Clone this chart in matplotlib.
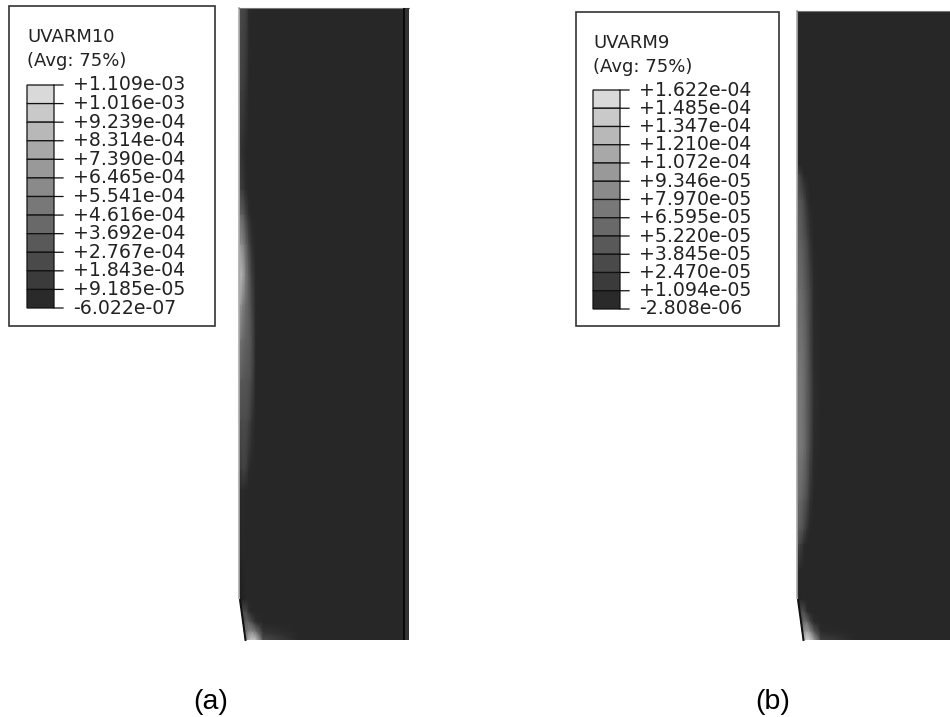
import numpy as np
import matplotlib
matplotlib.use("Agg")
import matplotlib.pyplot as plt
from matplotlib.patches import Polygon, Rectangle

labels_a = ["+1.109e-03","+1.016e-03","+9.239e-04","+8.314e-04","+7.390e-04","+6.465e-04","+5.541e-04",
            "+4.616e-04","+3.692e-04","+2.767e-04","+1.843e-04","+9.185e-05","-6.022e-07"]
labels_b = ["+1.622e-04","+1.485e-04","+1.347e-04","+1.210e-04","+1.072e-04","+9.346e-05","+7.970e-05",
            "+6.595e-05","+5.220e-05","+3.845e-05","+2.470e-05","+1.094e-05","-2.808e-06"]
band_grays = [0.85,0.79,0.72,0.66,0.60,0.54,0.47,0.41,0.35,0.29,0.23,0.165]

x_offsets = [0,1.5,4,7,10,13,17,24,60]

rows_a = [8,90,150,190,215,245,275,305,340,380,420,470,490,560,600,612,622,632,640]
field_a = [
 [.55,.30,.28,.26,.17,.155,.155,.155,.155],
 [.50,.25,.24,.20,.16,.155,.155,.155,.155],
 [.48,.20,.18,.16,.155,.155,.155,.155,.155],
 [.48,.25,.22,.17,.155,.155,.155,.155,.155],
 [.50,.40,.36,.26,.18,.155,.155,.155,.155],
 [.58,.58,.52,.40,.28,.19,.155,.155,.155],
 [.62,.72,.66,.48,.36,.24,.16,.155,.155],
 [.58,.60,.50,.42,.36,.27,.16,.155,.155],
 [.52,.46,.42,.38,.36,.30,.16,.155,.155],
 [.45,.36,.34,.33,.32,.27,.155,.155,.155],
 [.40,.30,.30,.30,.27,.20,.155,.155,.155],
 [.30,.22,.26,.24,.17,.155,.155,.155,.155],
 [.25,.16,.17,.155,.155,.155,.155,.155,.155],
 [.22,.14,.155,.155,.155,.155,.155,.155,.155],
 [.20,.12,.14,.155,.155,.155,.155,.155,.155],
 [.20,.18,.30,.28,.18,.155,.155,.155,.155],
 [.20,.20,.25,.38,.36,.28,.18,.155,.155],
 [.20,.20,.15,.45,.52,.55,.45,.20,.155],
 [.20,.20,.10,.55,.72,.80,.75,.30,.155],
]

rows_b = [11,165,175,200,240,290,350,400,450,500,530,545,570,600,612,622,632,640]
field_b = [
 [.30,.155,.155,.155,.155,.155,.155,.155,.155],
 [.30,.155,.155,.155,.155,.155,.155,.155,.155],
 [.30,.28,.22,.16,.155,.155,.155,.155,.155],
 [.30,.34,.33,.27,.19,.16,.155,.155,.155],
 [.30,.38,.37,.33,.28,.20,.155,.155,.155],
 [.30,.42,.42,.38,.33,.27,.165,.155,.155],
 [.30,.45,.45,.42,.36,.28,.17,.155,.155],
 [.30,.47,.47,.43,.36,.30,.18,.155,.155],
 [.30,.47,.47,.43,.36,.28,.17,.155,.155],
 [.30,.42,.40,.35,.30,.20,.155,.155,.155],
 [.28,.36,.34,.28,.20,.16,.155,.155,.155],
 [.28,.28,.24,.17,.155,.155,.155,.155,.155],
 [.25,.155,.155,.155,.155,.155,.155,.155,.155],
 [.22,.14,.155,.155,.155,.155,.155,.155,.155],
 [.20,.18,.32,.30,.18,.155,.155,.155,.155],
 [.20,.20,.26,.44,.42,.28,.17,.155,.155],
 [.20,.20,.15,.58,.64,.56,.36,.17,.155],
 [.20,.20,.10,.70,.84,.80,.62,.25,.155],
]

plt.rcParams["font.family"] = ["DejaVu Sans"]
fig = plt.figure(figsize=(9.5, 7.17), dpi=100, facecolor="white")
ax = fig.add_axes([0, 0, 1, 1])
ax.set_xlim(0, 950)
ax.set_ylim(717, 0)
ax.axis("off")

BASE = "#272727"


def plate(x0, x1, y0, field, rows, stripe=None):
    y1 = rows[-1]
    outline = [(x0, y0), (x1, y0), (x1, y1), (x0 + 6, y1), (x0 + 1, 600), (x0, 590)]
    clip = Polygon(outline, closed=True, transform=ax.transData, facecolor=BASE, edgecolor="none", zorder=1)
    ax.add_patch(clip)
    mesh = ax.pcolormesh(x0 + np.array(x_offsets), rows, np.array(field), shading="gouraud",
                         cmap="gray", vmin=0, vmax=1, zorder=2)
    mesh.set_clip_path(clip)
    ax.plot([x0 + 1, x0 + 6.5], [600, y1], color="#111111", lw=1.4, zorder=3)
    ax.plot([x0 - 0.5, x0 - 0.5], [y0, 598], color="#aaaaaa", lw=1.2, zorder=3)
    ax.plot([x0, x1], [y0, y0], color="#777777", lw=0.8, zorder=3)
    if stripe is not None:
        ax.add_patch(Rectangle((stripe, y0), 2.5, y1 - y0, facecolor="#0a0a0a", edgecolor="none", zorder=3))
        ax.add_patch(Rectangle((stripe + 2.5, y0), x1 - stripe - 2.5, y1 - y0, facecolor="#333333",
                               edgecolor="none", zorder=3))


def legend(box, name, labels, bar_x, bar_top, bar_bottom, title_y):
    bx0, by0, bx1, by1 = box
    ax.add_patch(Rectangle((bx0, by0), bx1 - bx0, by1 - by0, facecolor="white", edgecolor="#333333", lw=1.2, zorder=4))
    ax.text(bar_x, title_y, name, fontsize=13.0, color="#222222", va="center", ha="left", zorder=5)
    ax.text(bar_x, title_y + 24, "(Avg: 75%)", fontsize=13.0, color="#222222", va="center", ha="left", zorder=5)
    n = len(labels)
    h = (bar_bottom - bar_top) / (n - 1)
    for i, g in enumerate(band_grays):
        ax.add_patch(Rectangle((bar_x, bar_top + i * h), 27, h, facecolor=str(g), edgecolor="#111111", lw=0.9,
                               zorder=5, snap=False))
    for i, lab in enumerate(labels):
        y = bar_top + i * h
        ax.plot([bar_x + 27, bar_x + 36], [y, y], color="#111111", lw=0.9, zorder=5, snap=False)
        ax.text(bar_x + 46, y, lab, fontsize=13.6, color="#222222", va="center", ha="left", zorder=5)


plate(239, 409, 8, field_a, rows_a, stripe=402.5)
plate(797, 951, 11, field_b, rows_b)

legend((9, 6, 215, 326), "UVARM10", labels_a, 27, 85, 308, 37)
legend((576, 12, 779, 326), "UVARM9", labels_b, 593, 90, 309, 43)

ax.text(211, 702, "(a)", fontsize=20.5, family="Liberation Sans", ha="center", va="center", color="black")
ax.text(773, 702, "(b)", fontsize=20.5, family="Liberation Sans", ha="center", va="center", color="black")

fig.savefig("out.png", dpi=100, facecolor="white")
